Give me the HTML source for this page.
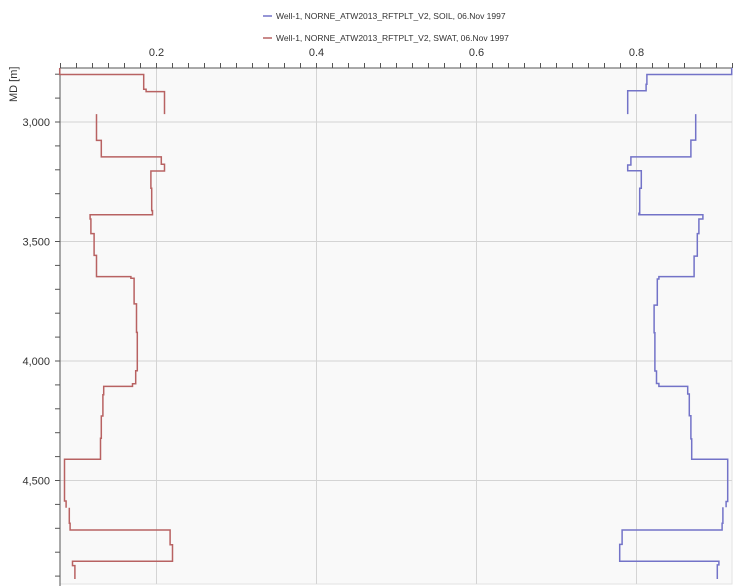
<!DOCTYPE html>
<html><head><meta charset="utf-8"><style>
body{margin:0;background:#fff;font-family:"Liberation Sans",sans-serif;}
svg{display:block}
</style></head><body>
<svg id="chart" width="739" height="588" viewBox="0 0 739 588" xmlns="http://www.w3.org/2000/svg">
<g font-size="8.5" fill="#333">
  <g>
    <line x1="263" y1="16" x2="272" y2="16" stroke="#7373c8" stroke-width="1.5"/>
    <text x="276" y="19">Well-1, NORNE_ATW2013_RFTPLT_V2, SOIL, 06.Nov 1997</text>
  </g>
  <g>
    <line x1="263" y1="38" x2="272" y2="38" stroke="#b86262" stroke-width="1.5"/>
    <text x="276" y="41">Well-1, NORNE_ATW2013_RFTPLT_V2, SWAT, 06.Nov 1997</text>
  </g>
</g>
<rect x="60" y="68" width="672" height="516" fill="#f9f9f9" stroke="#e2e2e2"/>
<g id="grid"></g>
<g id="axes"></g>
<g id="series"></g>
<text transform="translate(17,102) rotate(-90)" font-size="11" fill="#333">MD [m]</text>
</svg>
<script>
const xTickValues=[0.2,0.4,0.6,0.8];
const xTickLabels=["0.2","0.4","0.6","0.8"];
const yTickValues=[3000,3500,4000,4500];
const yTickLabels=["3,000","3,500","4,000","4,500"];
const swatDepth=[2774,2801,2863,2873,2967,2967,3077,3146,3177,3205,3277,3371,3388,3406,3467,3558,3647,3654,3761,3880,4041,4095,4106,4141,4230,4323,4411,4586,4614,4614,4679,4707,4769,4838,4856,4912];
const swatValue=[0.079,0.184,0.187,0.210,null,0.125,0.131,0.206,0.210,0.193,0.194,0.195,0.117,0.118,0.122,0.125,0.168,0.172,0.175,0.176,0.174,0.170,0.134,0.133,0.131,0.130,0.085,0.087,null,0.091,0.092,0.217,0.220,0.095,0.098,null];
const soilDepth=[2774,2801,2842,2869,2967,2967,3076,3146,3180,3204,3277,3382,3388,3406,3467,3561,3647,3657,3766,3882,4042,4094,4106,4138,4229,4326,4411,4588,4612,4612,4679,4707,4767,4838,4853,4912];
const soilValue=[0.919,0.813,0.812,0.789,null,0.874,0.868,0.793,0.789,0.806,0.804,0.803,0.883,0.878,0.876,0.872,0.828,0.826,0.822,0.823,0.825,0.828,0.864,0.866,0.868,0.869,0.914,0.912,null,0.908,0.907,0.782,0.779,0.903,0.901,null];

const L=60,R=732,T=68,B=584;
function xs(v){return 156.5+(v-0.2)*800;}
function ys(d){return 122+(d-3000)*0.239;}
const NS="http://www.w3.org/2000/svg";
function mk(tag,attrs,parent){const e=document.createElementNS(NS,tag);for(const k in attrs)e.setAttribute(k,attrs[k]);parent.appendChild(e);return e;}
const grid=document.getElementById('grid'),axes=document.getElementById('axes'),series=document.getElementById('series');
xTickValues.forEach((v,i)=>{
  const g=mk('line',{x1:xs(v),x2:xs(v),y1:T,y2:B,stroke:'#d4d4d4'},grid);
  
  
  const t=mk('text',{x:xs(v),y:56,'font-size':11,'text-anchor':'middle',fill:'#333'},axes);
  t.textContent=xTickLabels[i];
  
  
});
yTickValues.forEach((v,i)=>{
  const g=mk('line',{x1:L,x2:R,y1:ys(v),y2:ys(v),stroke:'#d4d4d4'},grid);
  
  
  const t=mk('text',{x:50,y:ys(v)+4,'font-size':11,'text-anchor':'end',fill:'#333'},axes);
  t.textContent=yTickLabels[i];
  
  
});
let a=mk('line',{x1:L,x2:R,y1:T,y2:T,stroke:'#555'},axes);


a=mk('line',{x1:L,x2:L,y1:T,y2:B+2,stroke:'#555'},axes);


for(let k=4;k<=46;k++){const v=k*0.02;const x=xs(v);if(x<L-0.5||x>R+0.5)continue;
  const t=mk('line',{x1:x,x2:x,y1:T-5,y2:T,stroke:'#555'},axes);
  
  }
for(let d=2800;d<=4900;d+=100){
  const t=mk('line',{x1:L-5,x2:L,y1:ys(d),y2:ys(d),stroke:'#555'},axes);
  
  }
function stepPath(D,V){let p='',open=false;
  for(let i=0;i<D.length-1;i++){const v=V[i];if(v===null){open=false;continue;}
    const x=xs(v);
    if(!open){p+='M'+x+' '+ys(D[i]);open=true;}
    p+='L'+x+' '+ys(D[i+1]);
    if(V[i+1]!==null&&V[i+1]!==undefined)p+='L'+xs(V[i+1])+' '+ys(D[i+1]);
  }return p;}
const ps=mk('path',{d:stepPath(swatDepth,swatValue),fill:'none',stroke:'#b86262','stroke-width':1.5},series);


const po=mk('path',{d:stepPath(soilDepth,soilValue),fill:'none',stroke:'#7373c8','stroke-width':1.5},series);


</script>
</body></html>
